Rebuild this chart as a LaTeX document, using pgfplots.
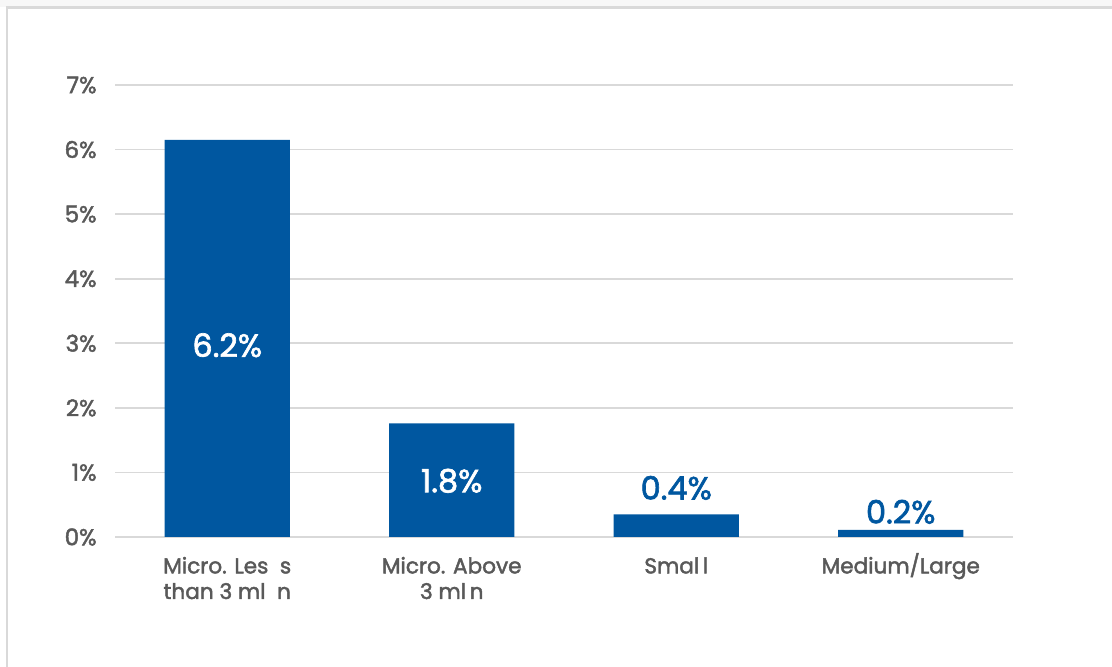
\documentclass[border=0pt]{standalone}
\usepackage{pgfplots}
\pgfplotsset{compat=1.18}
\usepackage{fontspec}
\setmainfont{Poppins}[FakeBold=2]
\definecolor{barblue}{HTML}{0057A0}
\definecolor{ticktext}{HTML}{595959}
\definecolor{gridgray}{HTML}{D9D9D9}
\newcommand\ts{\rule{0pt}{11pt}}
\begin{document}
\begin{tikzpicture}
\useasboundingbox (0,0) rectangle (556pt,333.5pt);
\fill[black!3] (0,330pt) rectangle (556pt,333.5pt);
\draw[gridgray, line width=1.2pt] (3.5pt,-5pt) -- (3.5pt,329.7pt) -- (560pt,329.7pt);
\begin{axis}[
  at={(57.5pt,65pt)}, anchor=south west,
  scale only axis, width=449pt, height=226pt,
  xmin=-0.5, xmax=3.5, ymin=0, ymax=7,
  axis line style={draw=none},
  ymajorgrids, grid style={gridgray, line width=0.8pt},
  ytick={0,1,...,7},
  yticklabel={\pgfmathprintnumber{\tick}\%},
  yticklabel style={anchor=east, inner sep=0pt, xshift=-9pt, font=\fontsize{11.5}{13}\selectfont, text=ticktext},
  /pgf/number format/assume math mode=true,
  major tick length=0pt,
  xtick={0,1,2,3},
  xticklabels={{\ts Micro. Les\ \ s\\than 3 ml\ \ n},{\ts Micro. Above\\3 ml\,n},{\ts Smal\,l},{\ts Medium/Large}},
  xticklabel style={anchor=north, inner sep=0pt, yshift=-7pt, align=center, font=\fontsize{10.8}{12.8}\selectfont, text=ticktext},
  clip=false,
]
\addplot[ybar, bar width=0.558, bar shift=0pt, fill=barblue, draw=none] coordinates {(0,6.15) (1,1.76) (2,0.35) (3,0.11)};
\addplot[draw=none, mark=none, point meta=explicit symbolic,
  nodes near coords, every node near coord/.append style={anchor=center, text=white, font=\fontsize{16}{18}\selectfont}]
  coordinates {(0,2.97) [6.2\%] (1,0.87) [1.8\%]};
\addplot[draw=none, mark=none, point meta=explicit symbolic,
  nodes near coords, every node near coord/.append style={anchor=center, text=barblue, font=\fontsize{16}{18}\selectfont}]
  coordinates {(2,0.76) [0.4\%] (3,0.39) [0.2\%]};
\end{axis}
\end{tikzpicture}
\end{document}
